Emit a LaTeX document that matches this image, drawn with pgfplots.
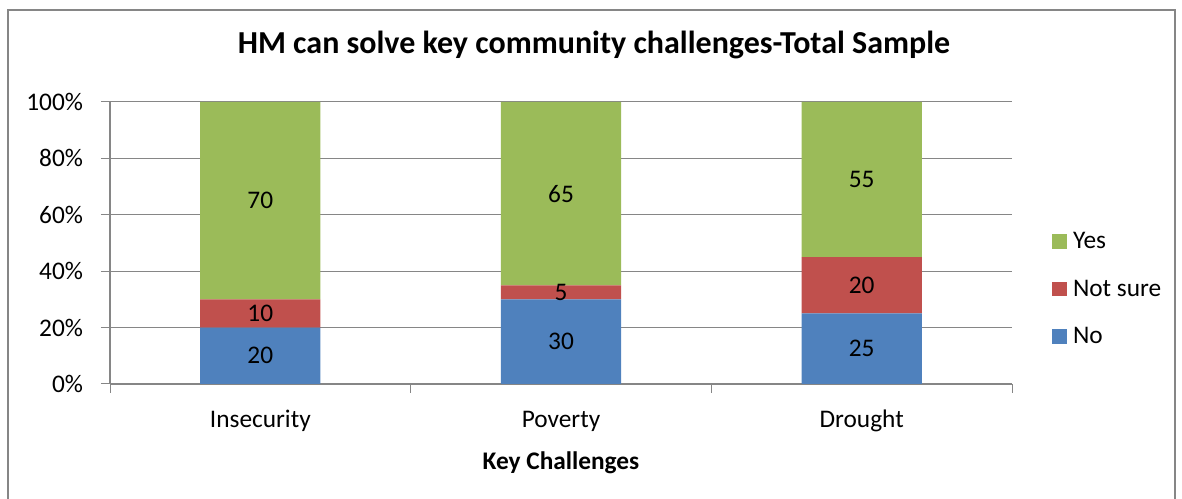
\documentclass[border=0pt]{standalone}
\usepackage{pgfplots}
\pgfplotsset{compat=1.18}
\usepackage{fontspec}
\setmainfont{Carlito}
\definecolor{cNo}{HTML}{4F81BD}
\definecolor{cNS}{HTML}{C0504D}
\definecolor{cYes}{HTML}{9BBB59}
\definecolor{cGrid}{HTML}{868686}
\begin{document}
\begin{tikzpicture}[x=1pt,y=1pt]
\path[use as bounding box] (0,0) rectangle (886.5,374.25);
\draw[cGrid, line width=1.5pt] (6,-20) rectangle (881.25,366.75);
\node[font=\fontsize{24}{28}\selectfont\bfseries] at (445.5,340.5) {HM can solve key community challenges-Total Sample};
\begin{axis}[
  at={(82.5pt,86.25pt)}, anchor=south west,
  width=676.5pt, height=211.5pt, scale only axis,
  xmin=-0.5, xmax=2.5, ymin=0, ymax=100,
  ybar stacked, bar width=0.4,
  xtick={0,1,2}, xticklabels={Insecurity,Poverty,Drought},
  major x tick style={draw=none},
  minor xtick={-0.5,0.5,1.5,2.5},
  ytick={0,20,40,60,80,100}, yticklabels={0\%,20\%,40\%,60\%,80\%,100\%},
  ymajorgrids, grid style={cGrid, line width=0.75pt},
  axis x line*=bottom, axis y line*=left,
  axis line style={cGrid, line width=0.9pt},
  tick align=outside, major tick length=6.75pt, minor tick length=6.75pt,
  tick style={cGrid, line width=0.75pt},
  ticklabel style={font=\fontsize{19}{22}\selectfont},
  yticklabel style={xshift=-10pt},
  xticklabel style={yshift=-9pt, text height=13pt, text depth=4pt},
  xlabel={Key Challenges},
  xlabel style={font=\fontsize{19}{22}\selectfont\bfseries, yshift=-8pt},
  legend style={at={(1.04,0.337)}, anchor=west, draw=none, fill=none,
    font=\fontsize{19}{22}\selectfont, row sep=13pt,
    nodes={inner sep=4.5pt}},
  legend cell align=left,
  reverse legend,
  legend image code/.code={\fill[#1] (0pt,-5.5pt) rectangle (11pt,5.5pt);},
]
\addplot[fill=cNo, draw=none] coordinates {(0,20) (1,30) (2,25)};
\addplot[fill=cNS, draw=none] coordinates {(0,10) (1,5) (2,20)};
\addplot[fill=cYes, draw=none] coordinates {(0,70) (1,65) (2,55)};
\legend{No,Not sure,Yes}
\end{axis}
\begin{axis}[
  at={(82.5pt,86.25pt)}, anchor=south west,
  width=676.5pt, height=211.5pt, scale only axis,
  xmin=-0.5, xmax=2.5, ymin=0, ymax=100, hide axis,
]
\addplot[draw=none, mark=none, nodes near coords, point meta=explicit symbolic,
  every node near coord/.style={anchor=center, font=\fontsize{19}{22}\selectfont}]
  coordinates {(0,10)[20] (0,25)[10] (0,65)[70]
               (1,15)[30] (1,32.5)[5] (1,67.5)[65]
               (2,12.5)[25] (2,35)[20] (2,72.5)[55]};
\end{axis}
\end{tikzpicture}
\end{document}
